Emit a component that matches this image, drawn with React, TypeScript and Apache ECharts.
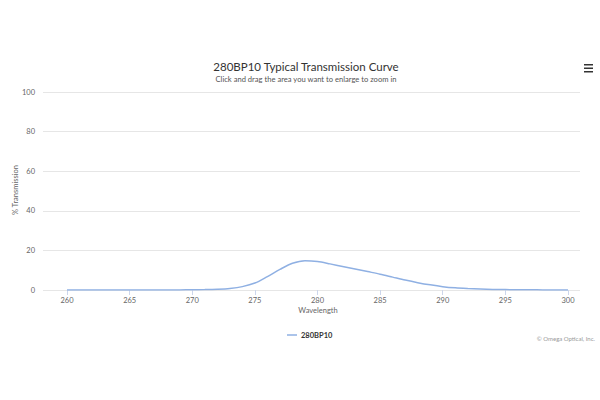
import React, { useEffect, useRef } from "react";
import * as echarts from "echarts";

const wavelengths = [
  260, 261, 262, 263, 264, 265, 266, 267, 268, 269, 270, 271, 272, 273, 274, 275, 276, 277, 278, 279, 280,
  281, 282, 283, 284, 285, 286, 287, 288, 289, 290, 291, 292, 293, 294, 295, 296, 297, 298, 299, 300,
];
const transmission = [
  0, 0, 0, 0, 0, 0, 0, 0, 0.02, 0.05, 0.1, 0.2, 0.4, 0.8, 1.7, 3.5, 6.8, 10.4, 13.5, 14.8, 14.4,
  13.2, 11.9, 10.6, 9.3, 8.0, 6.5, 5.0, 3.7, 2.6, 1.7, 1.1, 0.75, 0.5, 0.3, 0.2, 0.12, 0.08, 0.05, 0.03, 0.02,
];
const xTicks = [260, 265, 270, 275, 280, 285, 290, 295, 300];
const seriesName = "280BP10";
const titleText = "280BP10 Typical Transmission Curve";
const subtitleText = "Click and drag the area you want to enlarge to zoom in";

export default function App() {
  const ref = useRef<HTMLDivElement>(null);
  useEffect(() => {
    if (!ref.current) return;
    const chart = echarts.init(ref.current, undefined, { renderer: "svg" });
    const font = "Lato, 'Open Sans', 'DejaVu Sans', sans-serif";
    chart.setOption({
      animation: false,
      backgroundColor: "#ffffff",
      textStyle: { fontFamily: font },
      title: {
        text: titleText,
        subtext: subtitleText,
        left: 301,
        textAlign: "center",
        top: 55,
        itemGap: 3,
        textStyle: { fontSize: 11.5, fontWeight: "normal", color: "#333333", fontFamily: font },
        subtextStyle: { fontSize: 7.6, color: "#555555", fontFamily: font },
      },
      grid: { left: 43, right: 20, top: 92, bottom: 110 },
      legend: {
        data: [seriesName],
        left: 282,
        top: 326,
        itemWidth: 10,
        itemHeight: 1.5,
        itemGap: 4,
        icon: "rect",
        textStyle: { fontSize: 7.5, fontWeight: "bold", color: "#333333", fontFamily: font, padding: [0, 0, 0, -1] },
      },
      xAxis: {
        type: "value",
        min: 258.08,
        max: 300.96,
        axisLine: { show: false },
        splitLine: { show: false },
        axisTick: { show: true, customValues: xTicks, length: 5, lineStyle: { color: "#ccd6eb" } },
        axisLabel: { customValues: xTicks, fontSize: 7.5, color: "#666666", margin: 6, fontFamily: font },
      },
      yAxis: {
        type: "value",
        min: 0,
        max: 100,
        interval: 20,
        axisLine: { show: false },
        axisTick: { show: false },
        axisLabel: { fontSize: 7.5, color: "#666666", margin: 8, fontFamily: font },
        splitLine: { lineStyle: { color: "#e6e6e6", width: 1 } },
      },
      series: [
        {
          name: seriesName,
          type: "line",
          data: wavelengths.map((w, i) => [w, transmission[i]]),
          smooth: 0.3,
          showSymbol: false,
          symbol: "none",
          lineStyle: { color: "#8fb0e3", width: 1.5 },
          itemStyle: { color: "#8fb0e3" },
        },
      ],
      graphic: [
        {
          type: "text",
          x: 15,
          y: 190,
          rotation: Math.PI / 2,
          style: {
            text: "% Transmission",
            fontSize: 7.5,
            fill: "#666666",
            fontFamily: font,
            align: "center",
            verticalAlign: "middle",
          },
        },
        {
          type: "text",
          x: 318,
          y: 310,
          style: {
            text: "Wavelength",
            fontSize: 7.5,
            fill: "#666666",
            fontFamily: font,
            align: "center",
            verticalAlign: "middle",
          },
        },
        {
          type: "text",
          x: 595,
          y: 338,
          style: {
            text: "© Omega Optical, Inc.",
            fontSize: 6,
            fill: "#999999",
            fontFamily: font,
            align: "right",
            verticalAlign: "middle",
          },
        },
        { type: "rect", shape: { x: 584, y: 64, width: 9, height: 1.5 }, style: { fill: "#333333" } },
        { type: "rect", shape: { x: 584, y: 67.5, width: 9, height: 1.5 }, style: { fill: "#333333" } },
        { type: "rect", shape: { x: 584, y: 71, width: 9, height: 1.5 }, style: { fill: "#333333" } },
      ],
    });
    return () => chart.dispose();
  }, []);
  return <div ref={ref} style={{ position: "fixed", left: 0, top: 0, width: 600, height: 400 }} />;
}
